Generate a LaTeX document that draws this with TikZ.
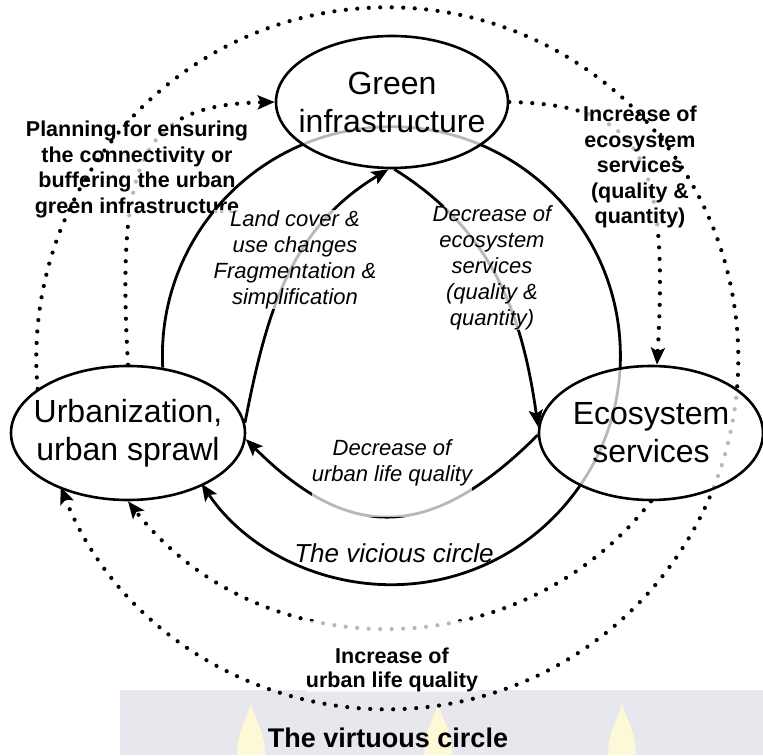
\documentclass[tikz,border=0pt]{standalone}
\usepackage{fontspec}
\setmainfont{Liberation Sans}
\usetikzlibrary{shapes.geometric,arrows.meta}

\pgfdeclarelayer{back}
\pgfdeclarelayer{dots}
\pgfdeclarelayer{boxes}
\pgfdeclarelayer{lines}
\pgfsetlayers{back,dots,boxes,lines,main}

\definecolor{bandgray}{HTML}{E7E8EE}
\definecolor{flame}{HTML}{FDF8D6}

\begin{document}
\begin{tikzpicture}[x=1pt,y=1pt,->,>={Stealth[length=17pt,width=14pt,inset=3.5pt]},
    line width=2.6pt,
    area node/.style={ellipse,draw,fill=white,fill opacity=0.72,text opacity=1,
      inner xsep=-25pt,inner ysep=0pt,align=center,font=\fontsize{32}{38}\selectfont},
    cause/.style={align=center,inner sep=0pt,fill=white,fill opacity=0.72,text opacity=1,
      font=\fontsize{22}{26}\selectfont\itshape},
    gain/.style={align=center,inner sep=0pt,fill=white,fill opacity=0.72,text opacity=1,
      font=\fontsize{21.5}{25.5}\selectfont\bfseries},
    vice/.style={line width=2.8pt},
    virtuous/.style={line width=4.2pt,line cap=round,dash pattern=on 0pt off 11.5pt}]

\useasboundingbox (0,0) rectangle (763,755);

% the three states
\node[area node,minimum width=232pt,minimum height=132pt] (green) at (392,653) {Green\\infrastructure};
\node[area node,minimum width=234pt,minimum height=134pt] (urban) at (128,322) {Urbanization,\\urban sprawl};
\node[area node,minimum width=224pt,minimum height=134pt] (eco) at (651,322) {Ecosystem\\services};

% labels of the vicious circle
\node[cause] (landuse) at (295,495.5) {Land cover \&\\use changes\\Fragmentation \&\\simplification};
\node[cause] (esloss) at (492,487) {Decrease of\\ecosystem\\services\\(quality \&\\quantity)};
\node[cause,anchor=north] (lifeloss) at (392,317) {Decrease of\\urban life quality\rule[-36pt]{0pt}{36pt}};
\node[font=\fontsize{26}{30}\selectfont\itshape,anchor=base] (vicious) at (394,192) {The vicious circle};
\node[font=\fontsize{27}{32}\selectfont\bfseries,anchor=base] (virtue) at (388,8) {The virtuous circle};

\begin{pgfonlayer}{back}
\fill[bandgray,-] (120,0) rectangle (763,65);
\foreach \fx in {251,438,622}
  \fill[flame,-] (\fx,52) .. controls (\fx+3,38) and (\fx+14,24) .. (\fx+14,0)
    -- (\fx-14,0) .. controls (\fx-14,24) and (\fx-3,38) .. (\fx,52);
\end{pgfonlayer}

% virtuous circle, inner arrows
\begin{pgfonlayer}{dots}
\draw[virtuous] (urban.north) .. controls +(-12,210) and +(-132,-3) .. (green.west);
\draw[virtuous] (green.east) .. controls +(132,-3) and +(12,210) .. (eco.85);
\draw[virtuous] (eco.south) to[out=-128,in=-52,looseness=1.05] (urban.south);
\end{pgfonlayer}

\begin{pgfonlayer}{boxes}
\node[gain] (plan) at (137,585.5) {Planning for ensuring\\the connectivity or\\buffering the urban\\green infrastructure};
\node[gain] (esgain) at (640,588) {Increase of\\ecosystem\\services\\(quality \&\\quantity)};
\node[gain,anchor=south,font=\fontsize{21.5}{24}\selectfont\bfseries] (lifegain) at (392,62.4)
  {\rule{0pt}{43pt}Increase of\\urban life quality};
\end{pgfonlayer}

\begin{pgfonlayer}{lines}
\draw[virtuous] (urban.154) arc[start angle=185,end angle=-158.5,radius=351];
\draw[vice] (urban.62) arc[start angle=183,end angle=-146,radius=229];
\draw[vice] (urban.5) to[out=79,in=211] (green.-93);
\draw[vice] (green.-88) to[out=-32,in=98] (eco.177);
\draw[vice] (eco.181) to[out=-135,in=-45,looseness=1.3] (urban.-3);
\end{pgfonlayer}

\end{tikzpicture}
\end{document}
